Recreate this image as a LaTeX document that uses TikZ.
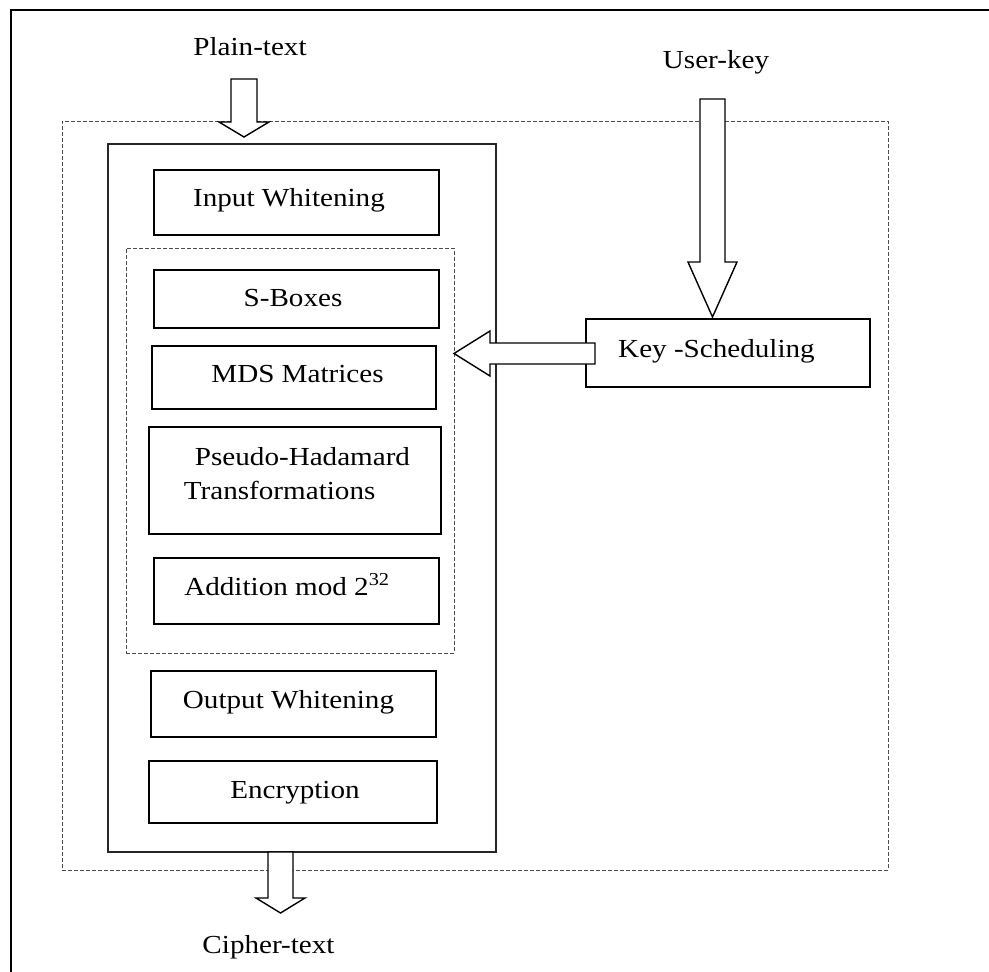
\documentclass[tikz,border=0pt]{standalone}
\usepackage{fontspec}
\setmainfont{Liberation Serif}[FakeStretch=1.12]
\usetikzlibrary{calc}
\tikzset{
  boxnode/.style={draw=black, line width=1.8pt, inner sep=0pt},
  mainbox/.style={draw=black!85, line width=1.1pt, inner sep=0pt},
  dashbox/.style={draw=black!70, line width=0.9pt, dash pattern=on 4pt off 2pt, inner sep=0pt},
  txt/.style={inner sep=0pt, anchor=base, font=\fontsize{26}{34}\selectfont},
  blockarrow/.style={draw=black, line width=1.4pt, fill=white, line join=miter},
}
\begin{document}
\begin{tikzpicture}[x=1pt,y=-1pt]
\useasboundingbox (0,0) rectangle (989,972);
% page frame (left and top edges)
\draw[line width=2pt] (11,972) -- (11,10) -- (989,10);

% containers
\node[dashbox, minimum width=826pt, minimum height=749pt] (outer) at (475,495.5) {};
\node[mainbox, fill=white, minimum width=388pt, minimum height=708pt] (main) at (302,498) {};
\node[dashbox, minimum width=328pt, minimum height=405pt] (inner) at (290,450.5) {};

% boxes
\node[boxnode, minimum width=285pt, minimum height=65pt] (iw) at (296.5,202.5) {};
\node[boxnode, minimum width=285pt, minimum height=58pt] (sb) at (296.5,299) {};
\node[boxnode, minimum width=284pt, minimum height=63pt] (mds) at (294,377.5) {};
\node[boxnode, minimum width=292pt, minimum height=107pt] (ph) at (295,480.5) {};
\node[boxnode, minimum width=285pt, minimum height=66pt] (add) at (296.5,591) {};
\node[boxnode, minimum width=285pt, minimum height=66pt] (ow) at (293.5,704) {};
\node[boxnode, minimum width=288pt, minimum height=62pt] (enc) at (293,792) {};
\node[boxnode, minimum width=284pt, minimum height=68pt] (ks) at (728,353) {};

% texts
\node[txt] (iwt) at (289,206) {Input Whitening};
\node[txt] (sbt) at (293,306) {S-Boxes};
\node[txt] (mdst) at (297.5,382) {MDS Matrices};
\node[txt, anchor=center, align=left] (pht) at (297,474) {\hspace*{11pt}Pseudo-Hadamard\\Transformations};
\node[txt] (addt) at (287,595) {Addition mod 2\textsuperscript{32}};
\node[txt] (owt) at (288.5,708) {Output Whitening};
\node[txt] (enct) at (295,798) {Encryption};
\node[txt] (kst) at (716.5,357) {Key -Scheduling};
\node[txt] (plain) at (250,55) {Plain-text};
\node[txt] (user) at (716,68) {User-key};
\node[txt] (cipher) at (268.5,953) {Cipher-text};

% block arrows
% Plain-text -> main box
\draw[blockarrow] (231,79) -- (257,79) -- (257,122) -- (269,122) -- (244,137)
  -- (219,122) -- (231,122) -- cycle;
% User-key -> Key-Scheduling
\draw[blockarrow] (700,99) -- (725,99) -- (725,262) -- (737,262) -- (712.5,317)
  -- (688,262) -- (700,262) -- cycle;
% Key-Scheduling -> inner round block
\draw[blockarrow] (595,343) -- (490,343) -- (490,331) -- (454,353.5)
  -- (490,376) -- (490,364) -- (595,364) -- cycle;
% main box -> Cipher-text
\draw[blockarrow] (268,852) -- (293,852) -- (293,898) -- (305,898) -- (280.5,913)
  -- (256,898) -- (268,898) -- cycle;
\end{tikzpicture}
\end{document}
